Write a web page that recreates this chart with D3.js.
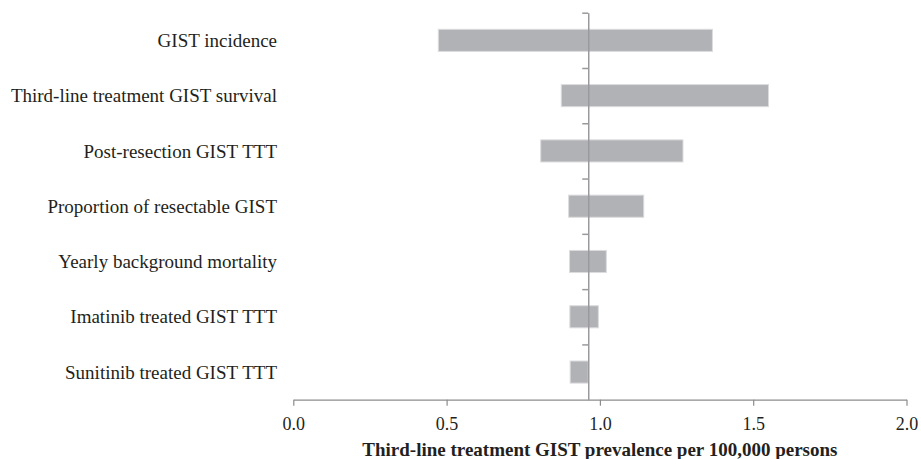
<!DOCTYPE html>
<html>
<head>
<meta charset="utf-8">
<script src="https://cdn.jsdelivr.net/npm/d3@7"></script>
<style>
  html, body { margin: 0; padding: 0; background: #fff; }
  svg { display: block; }
  text { font-family: "Liberation Serif", "Times New Roman", serif; fill: #231f20; }
</style>
</head>
<body>
<svg id="chart" width="921" height="459"></svg>
<script>
const categories = [
  "GIST incidence",
  "Third-line treatment GIST survival",
  "Post-resection GIST TTT",
  "Proportion of resectable GIST",
  "Yearly background mortality",
  "Imatinib treated GIST TTT",
  "Sunitinib treated GIST TTT"
];
const lowValues  = [0.473, 0.874, 0.807, 0.898, 0.901, 0.902, 0.903];
const highValues = [1.367, 1.550, 1.271, 1.143, 1.021, 0.995, 0.962];
const baseValue = 0.962;
const xTicks = [0, 0.5, 1.0, 1.5, 2.0];
const xTickLabels = ["0.0", "0.5", "1.0", "1.5", "2.0"];
const xTitle = "Third-line treatment GIST prevalence per 100,000 persons";

(function () {
const svg = d3.select("#chart");
const mLeft = 293.3, mRight = 906.5, mTop = 12.7, mBottom = 399.7;

const x = d3.scaleLinear().domain([0, 2]).range([mLeft, mRight]);
const y = d3.scaleBand().domain(categories).range([mTop, mBottom])
  .paddingInner(0.6).paddingOuter(0.3);

// bars
svg.append("g").selectAll("rect")
  .data(categories)
  .join("rect")
  .attr("x", (d, i) => x(lowValues[i]))
  .attr("width", (d, i) => x(highValues[i]) - x(lowValues[i]))
  .attr("y", d => y(d))
  .attr("height", y.bandwidth())
  .attr("fill", "#b1b2b6")
  .attr("stroke", "#dcdcde")
  .attr("stroke-width", 1);

// category labels
svg.append("g").selectAll("text")
  .data(categories)
  .join("text")
  .attr("x", 277)
  .attr("y", d => y(d) + y.bandwidth() / 2)
  .attr("dy", "0.35em")
  .attr("text-anchor", "end")
  .attr("font-size", 19)
  .text(d => d);

// x axis
const xAxis = d3.axisBottom(x)
  .tickValues(xTicks)
  .tickFormat((d, i) => xTickLabels[i])
  .tickSizeInner(6).tickSizeOuter(0).tickPadding(12);
const gx = svg.append("g").attr("transform", `translate(0,${mBottom})`).call(xAxis);
gx.select(".domain").attr("stroke", "#8c8c8c").attr("stroke-width", 1.2);
gx.selectAll(".tick line").attr("stroke", "#8c8c8c").attr("stroke-width", 1.2);
gx.selectAll(".tick text")
  .attr("font-family", "Liberation Serif, serif")
  .attr("font-size", 18).attr("fill", "#231f20");

// vertical base-case axis with ticks between categories
const yIdx = d3.scaleLinear().domain([0, categories.length]).range([mTop, mBottom]);
const yAxis = d3.axisLeft(yIdx)
  .tickValues(d3.range(categories.length))
  .tickFormat("")
  .tickSizeInner(6).tickSizeOuter(0);
const gy = svg.append("g").attr("transform", `translate(${x(baseValue)},0)`).call(yAxis);
gy.select(".domain").attr("stroke", "#9a9a9e").attr("stroke-width", 1.5);
gy.selectAll(".tick line").attr("stroke", "#9a9a9e").attr("stroke-width", 1.5);

// x title
svg.append("text")
  .attr("x", (mLeft + mRight) / 2)
  .attr("y", 456)
  .attr("text-anchor", "middle")
  .attr("font-size", 19)
  .attr("font-weight", "bold")
  .text(xTitle);
})();
</script>
</body>
</html>
